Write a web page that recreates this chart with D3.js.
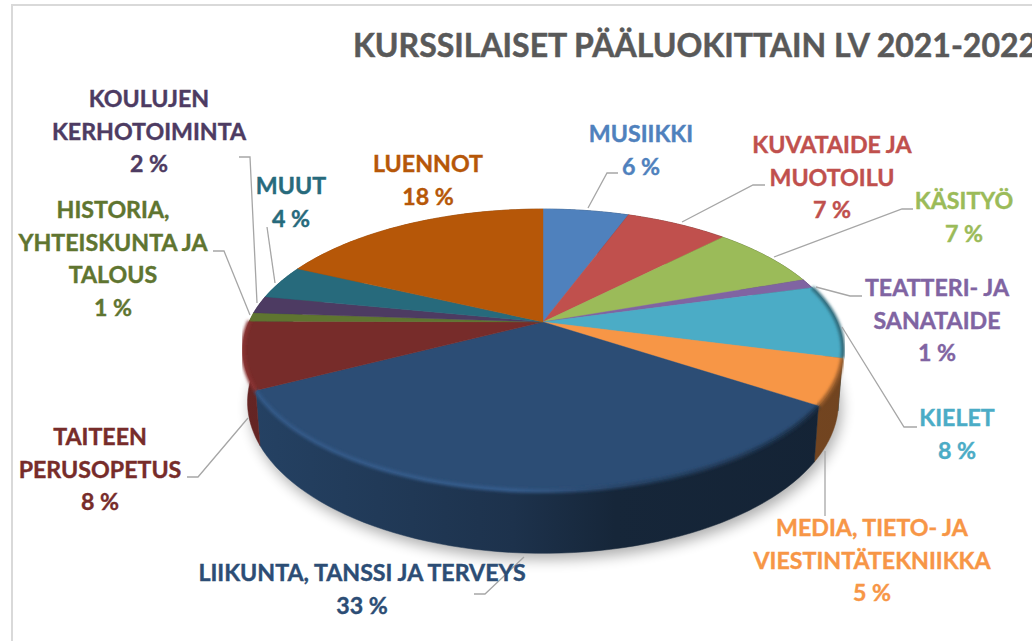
<!DOCTYPE html>
<html lang="fi">
<head>
<meta charset="utf-8">
<title>Kurssilaiset pääluokittain</title>
<script src="https://cdn.jsdelivr.net/npm/d3@7"></script>
<style>
  html, body { margin: 0; padding: 0; background: #fff; overflow: hidden; }
  svg { display: block; }
  text { font-family: Lato, "Open Sans", sans-serif; font-weight: 700; text-anchor: middle; }
</style>
</head>
<body>
<svg id="chart" width="1032" height="641"></svg>
<script>
const titleText = "KURSSILAISET PÄÄLUOKITTAIN LV 2021-2022";

// data, in pie order starting from 12 o'clock
const categories = [
  "MUSIIKKI", "KUVATAIDE JA MUOTOILU", "KÄSITYÖ", "TEATTERI- JA SANATAIDE",
  "KIELET", "MEDIA, TIETO- JA VIESTINTÄTEKNIIKKA", "LIIKUNTA, TANSSI JA TERVEYS",
  "TAITEEN PERUSOPETUS", "HISTORIA, YHTEISKUNTA JA TALOUS",
  "KOULUJEN KERHOTOIMINTA", "MUUT", "LUENNOT"
];
const values = [5.6, 6.7, 7.3, 1.1, 8.4, 5.2, 33.1, 7.7, 1, 2, 3.9, 18];
const percentLabels = ["6 %", "7 %", "7 %", "1 %", "8 %", "5 %", "33 %", "8 %", "1 %", "2 %", "4 %", "18 %"];

const colors = [
  "#4f81bd", "#c0504d", "#9bbb59", "#8064a2", "#4bacc6", "#f79646",
  "#2c4d75", "#772c2a", "#5f7530", "#4d3b62", "#276a7c", "#b65708"
];

// label placement: wrapped lines, centre x, first baseline, leader polyline
const labelLines = [
  ["MUSIIKKI"], ["KUVATAIDE JA", "MUOTOILU"], ["KÄSITYÖ"], ["TEATTERI- JA", "SANATAIDE"],
  ["KIELET"], ["MEDIA, TIETO- JA", "VIESTINTÄTEKNIIKKA"], ["LIIKUNTA, TANSSI JA TERVEYS"],
  ["TAITEEN", "PERUSOPETUS"], ["HISTORIA,", "YHTEISKUNTA JA", "TALOUS"],
  ["KOULUJEN", "KERHOTOIMINTA"], ["MUUT"], ["LUENNOT"]
];
const labelX = [641, 832, 964, 937, 957, 872, 362, 100, 113, 149, 291, 428];
const labelY = [142, 153, 209, 296, 426, 536, 581, 445, 218, 107, 194, 172];
const leaders = [
  [[588, 208], [607, 173], [618, 173]],
  [[682, 222], [753, 185], [765, 185]],
  [[774, 257], [902, 209], [913, 209]],
  [[816, 287], [850, 296], [862, 296]],
  [[842, 327], [904, 427], [917, 427]],
  [[825, 451], [825, 516]],
  [[524, 557], [485, 594], [474, 594]],
  [[248, 418], [198, 477], [187, 477]],
  [[250, 315], [224, 251], [213, 251]],
  [[257, 303], [250, 157], [239, 157]],
  [[275, 283], [267, 227]],
  null
];

const svg = d3.select("#chart");
const defs = svg.append("defs");

// Perspective of the tilted disc
const cx = 543, cy = 322;
const radiusX = 294, radiusY = 135.4, tilt = 0.1986, depth = 50;

const topPoint = (a) => {
  const w = 1 + tilt * Math.cos(a);
  return [cx + radiusX * Math.sin(a) / w, cy - radiusY * Math.cos(a) / w];
};
const bottomPoint = (a) => {
  const w = 1 + tilt * Math.cos(a);
  return [cx + 0.985 * radiusX * Math.sin(a) / w, cy - radiusY * Math.cos(a) / w + depth / w];
};

const pie = d3.pie().sort(null).value(d => d);
const slices = pie(values);

const line = d3.line();
const anglesOf = (d) => d3.range(0, 61).map(i => d.startAngle + (d.endAngle - d.startAngle) * i / 60);

const topPath = (d) => line([[cx, cy], ...anglesOf(d).map(topPoint)]) + "Z";
const sidePath = (d) => {
  const angles = anglesOf(d);
  return line([...angles.map(topPoint), ...angles.slice().reverse().map(bottomPoint)]) + "Z";
};
const rimPath = (d) => line(anglesOf(d).map(topPoint));

// filters
defs.append("filter").attr("id", "shadow")
  .attr("x", "-10%").attr("y", "-10%").attr("width", "120%").attr("height", "130%")
  .append("feGaussianBlur").attr("stdDeviation", 7);
defs.append("filter").attr("id", "soft")
  .attr("x", "-5%").attr("y", "-5%").attr("width", "110%").attr("height", "110%")
  .append("feGaussianBlur").attr("stdDeviation", 1.6);

const addGradient = (id, stops) => {
  const g = defs.append("linearGradient").attr("id", id)
    .attr("gradientUnits", "userSpaceOnUse")
    .attr("x1", 243).attr("x2", 843).attr("y1", 0).attr("y2", 0);
  stops.forEach(s => g.append("stop").attr("offset", s[0]).attr("stop-color", s[1]));
};
// same ramp over the whole width, each slice gets its own colours
colors.forEach((c, i) => {
  const col = d3.rgb(c);
  addGradient(`side-${i}`, [[0, col.darker(0.45)], [0.45, col.darker(1.2)], [0.62, col.darker(2.0)], [1, col.darker(2.2)]]);
  addGradient(`rim-${i}`, [[0, col.brighter(0.4)], [0.45, col.brighter(0.5)], [0.65, col.darker(0.5)], [1, col.darker(1.4)]]);
});

// frame, runs off the picture on the right and at the bottom
svg.append("rect")
  .attr("x", 12).attr("y", 5).attr("width", 1100).attr("height", 700)
  .attr("fill", "#fff").attr("stroke", "#d9d9d9").attr("stroke-width", 2);

// drop shadow under the disc
svg.append("path")
  .attr("d", line(d3.range(0, 121).map(i => bottomPoint(i / 120 * 2 * Math.PI))) + "Z")
  .attr("transform", "translate(3, 6)")
  .attr("fill", "#000")
  .attr("opacity", 0.32)
  .attr("filter", "url(#shadow)");

// Sides first, the top faces cover whatever is behind
svg.append("g").selectAll("path")
  .data(slices)
  .enter()
  .append("path")
  .attr("d", sidePath)
  .attr("fill", (d, i) => `url(#side-${i})`)
  .attr("stroke", (d, i) => `url(#side-${i})`)
  .attr("stroke-width", 0.5);

svg.append("g").selectAll("path")
  .data(slices)
  .enter()
  .append("path")
  .attr("d", topPath)
  .attr("fill", (d, i) => colors[i])
  .attr("stroke", (d, i) => colors[i])
  .attr("stroke-width", 0.4);

// bevel along the front rim only
svg.append("g").selectAll("path")
  .data(slices.filter(d => d.endAngle > Math.PI / 2 && d.startAngle < 1.5 * Math.PI))
  .enter()
  .append("path")
  .attr("d", rimPath)
  .attr("fill", "none")
  .attr("stroke", d => `url(#rim-${d.index})`)
  .attr("stroke-width", 4)
  .attr("filter", "url(#soft)");

// leader lines
svg.append("g").selectAll("path")
  .data(leaders.filter(d => d))
  .enter()
  .append("path")
  .attr("d", d => line(d))
  .attr("fill", "none")
  .attr("stroke", "#a6a6a6")
  .attr("stroke-width", 1.3);

// labels: wrapped name and the percentage on its own line
const labels = svg.append("g").selectAll("text")
  .data(slices)
  .enter()
  .append("text")
  .attr("font-size", 23.2)
  .attr("fill", (d, i) => colors[i])
  .attr("stroke", (d, i) => colors[i])
  .attr("stroke-width", 0.4);

labels.each(function (d, i) {
  const rows = [...labelLines[i], percentLabels[i]];
  d3.select(this).selectAll("tspan")
    .data(rows)
    .enter()
    .append("tspan")
    .attr("x", labelX[i])
    .attr("y", (r, j) => labelY[i] + j * 32.6)
    .text(r => r);
});

svg.append("text")
  .attr("x", 695)
  .attr("y", 57)
  .attr("font-size", 32)
  .attr("fill", "#595959")
  .attr("stroke", "#595959")
  .attr("stroke-width", 0.5)
  .text(titleText);
</script>
</body>
</html>
